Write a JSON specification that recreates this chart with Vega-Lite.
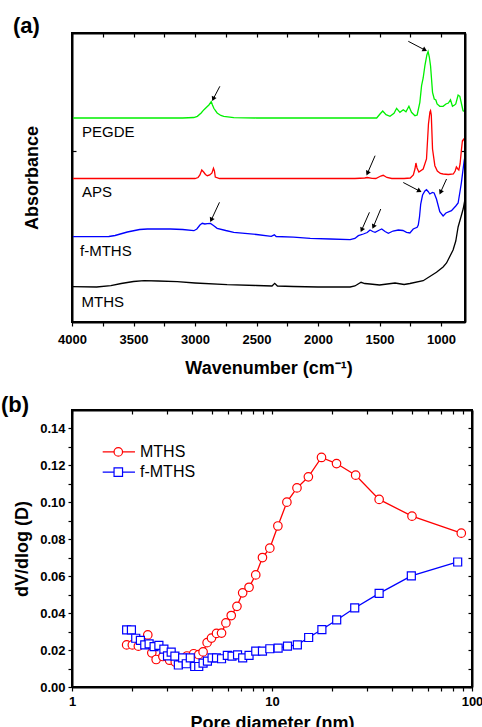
{
  "$schema": "https://vega.github.io/schema/vega-lite/v6.json",
  "background": "white",
  "padding": {"left": 0, "top": 14, "right": 0, "bottom": 0},
  "spacing": 15,
  "resolve": {"scale": {"stroke": "independent", "shape": "independent"}},
  "config": {
    "font": "Liberation Sans",
    "view": {"stroke": "black", "strokeWidth": 2},
    "axis": {"grid": false, "domain": true, "domainColor": "black", "domainWidth": 2, "zindex": 1, "tickColor": "black", "tickWidth": 1.2, "labelColor": "black", "titleColor": "black", "labelFont": "Liberation Sans", "labelFontWeight": "bold", "labelFontSize": 13, "titleFont": "Liberation Sans", "titleFontWeight": "bold", "titleFontSize": 18},
    "title": {"font": "Liberation Sans", "fontWeight": "bold", "fontSize": 22, "anchor": "start", "color": "black", "frame": "group"}
  },
  "datasets": {
    "ftir": [
      {"s":"PEGDE","w":4000,"a":204},{"s":"PEGDE","w":3700,"a":204},{"s":"PEGDE","w":3400,"a":204},{"s":"PEGDE","w":3100,"a":204},{"s":"PEGDE","w":3010,"a":204.5},{"s":"PEGDE","w":2981,"a":205.7},{"s":"PEGDE","w":2950,"a":209},{"s":"PEGDE","w":2927,"a":212.3},{"s":"PEGDE","w":2900,"a":215.5},{"s":"PEGDE","w":2887,"a":217},{"s":"PEGDE","w":2868,"a":220.3},{"s":"PEGDE","w":2858,"a":217},{"s":"PEGDE","w":2847,"a":213.7},{"s":"PEGDE","w":2820,"a":209},{"s":"PEGDE","w":2790,"a":206.5},{"s":"PEGDE","w":2766,"a":205.7},{"s":"PEGDE","w":2685,"a":204.3},{"s":"PEGDE","w":2500,"a":204},{"s":"PEGDE","w":2300,"a":204},{"s":"PEGDE","w":2100,"a":204},{"s":"PEGDE","w":1900,"a":204},{"s":"PEGDE","w":1700,"a":204},{"s":"PEGDE","w":1523,"a":204},{"s":"PEGDE","w":1496,"a":208},{"s":"PEGDE","w":1474,"a":211},{"s":"PEGDE","w":1447,"a":207.3},{"s":"PEGDE","w":1415,"a":205.7},{"s":"PEGDE","w":1382,"a":208.7},{"s":"PEGDE","w":1361,"a":213.7},{"s":"PEGDE","w":1334,"a":209.7},{"s":"PEGDE","w":1307,"a":212.3},{"s":"PEGDE","w":1285,"a":210.3},{"s":"PEGDE","w":1261,"a":215.7},{"s":"PEGDE","w":1240,"a":209.7},{"s":"PEGDE","w":1212,"a":206.3},{"s":"PEGDE","w":1194,"a":207},{"s":"PEGDE","w":1172,"a":219.7},{"s":"PEGDE","w":1158,"a":236.3},{"s":"PEGDE","w":1145,"a":244},{"s":"PEGDE","w":1131,"a":256.3},{"s":"PEGDE","w":1115,"a":267},{"s":"PEGDE","w":1105,"a":270.5},{"s":"PEGDE","w":1095,"a":265},{"s":"PEGDE","w":1085,"a":256},{"s":"PEGDE","w":1069,"a":229.7},{"s":"PEGDE","w":1055,"a":223},{"s":"PEGDE","w":1042,"a":222},{"s":"PEGDE","w":1032,"a":218},{"s":"PEGDE","w":1010,"a":215.7},{"s":"PEGDE","w":983,"a":215.7},{"s":"PEGDE","w":960,"a":218},{"s":"PEGDE","w":940,"a":219},{"s":"PEGDE","w":923,"a":222.3},{"s":"PEGDE","w":907,"a":215.7},{"s":"PEGDE","w":890,"a":217},{"s":"PEGDE","w":880,"a":218},{"s":"PEGDE","w":861,"a":227},{"s":"PEGDE","w":847,"a":225.7},{"s":"PEGDE","w":835,"a":219},{"s":"PEGDE","w":821,"a":211.3},{"s":"PEGDE","w":805,"a":210.3},
      {"s":"APS","w":4000,"a":143.5},{"s":"APS","w":3500,"a":143.5},{"s":"APS","w":3000,"a":143.5},{"s":"APS","w":2975,"a":144.5},{"s":"APS","w":2960,"a":147},{"s":"APS","w":2945,"a":152},{"s":"APS","w":2930,"a":150},{"s":"APS","w":2915,"a":147.5},{"s":"APS","w":2900,"a":146.3},{"s":"APS","w":2880,"a":147},{"s":"APS","w":2862,"a":149},{"s":"APS","w":2850,"a":153.7},{"s":"APS","w":2842,"a":151},{"s":"APS","w":2835,"a":145},{"s":"APS","w":2800,"a":143.5},{"s":"APS","w":2500,"a":143.5},{"s":"APS","w":2000,"a":143.5},{"s":"APS","w":1700,"a":143.5},{"s":"APS","w":1620,"a":144},{"s":"APS","w":1600,"a":144.5},{"s":"APS","w":1560,"a":143.7},{"s":"APS","w":1530,"a":143.5},{"s":"APS","w":1490,"a":146},{"s":"APS","w":1470,"a":146.7},{"s":"APS","w":1440,"a":144.5},{"s":"APS","w":1400,"a":143.5},{"s":"APS","w":1300,"a":143.5},{"s":"APS","w":1250,"a":144},{"s":"APS","w":1225,"a":147},{"s":"APS","w":1212,"a":153},{"s":"APS","w":1204,"a":159},{"s":"APS","w":1195,"a":154},{"s":"APS","w":1180,"a":150},{"s":"APS","w":1145,"a":153},{"s":"APS","w":1118,"a":163},{"s":"APS","w":1102,"a":198},{"s":"APS","w":1090,"a":210},{"s":"APS","w":1085,"a":211.3},{"s":"APS","w":1079,"a":207},{"s":"APS","w":1069,"a":173},{"s":"APS","w":1050,"a":156.3},{"s":"APS","w":1030,"a":151},{"s":"APS","w":1005,"a":148.5},{"s":"APS","w":983,"a":148},{"s":"APS","w":940,"a":147.5},{"s":"APS","w":900,"a":148},{"s":"APS","w":885,"a":151},{"s":"APS","w":875,"a":155},{"s":"APS","w":863,"a":153},{"s":"APS","w":855,"a":152},{"s":"APS","w":845,"a":158},{"s":"APS","w":835,"a":171},{"s":"APS","w":826,"a":181.3},{"s":"APS","w":815,"a":183},{"s":"APS","w":805,"a":179},
      {"s":"f-MTHS","w":4000,"a":85.3},{"s":"f-MTHS","w":3800,"a":85.3},{"s":"f-MTHS","w":3700,"a":85.5},{"s":"f-MTHS","w":3650,"a":86.5},{"s":"f-MTHS","w":3550,"a":90},{"s":"f-MTHS","w":3450,"a":92.5},{"s":"f-MTHS","w":3387,"a":93},{"s":"f-MTHS","w":3300,"a":93.2},{"s":"f-MTHS","w":3200,"a":93},{"s":"f-MTHS","w":3100,"a":92.5},{"s":"f-MTHS","w":3009,"a":91.3},{"s":"f-MTHS","w":2985,"a":93},{"s":"f-MTHS","w":2960,"a":97},{"s":"f-MTHS","w":2941,"a":98.7},{"s":"f-MTHS","w":2920,"a":98},{"s":"f-MTHS","w":2900,"a":98.3},{"s":"f-MTHS","w":2874,"a":98.5},{"s":"f-MTHS","w":2850,"a":96.5},{"s":"f-MTHS","w":2820,"a":93.7},{"s":"f-MTHS","w":2750,"a":91.5},{"s":"f-MTHS","w":2685,"a":89.7},{"s":"f-MTHS","w":2500,"a":87.5},{"s":"f-MTHS","w":2380,"a":85.7},{"s":"f-MTHS","w":2355,"a":87.2},{"s":"f-MTHS","w":2340,"a":85.5},{"s":"f-MTHS","w":2200,"a":84.8},{"s":"f-MTHS","w":2063,"a":83.7},{"s":"f-MTHS","w":1900,"a":83},{"s":"f-MTHS","w":1739,"a":82.3},{"s":"f-MTHS","w":1700,"a":83.5},{"s":"f-MTHS","w":1672,"a":86.3},{"s":"f-MTHS","w":1631,"a":88},{"s":"f-MTHS","w":1600,"a":89.5},{"s":"f-MTHS","w":1577,"a":92},{"s":"f-MTHS","w":1555,"a":90.5},{"s":"f-MTHS","w":1536,"a":89.7},{"s":"f-MTHS","w":1500,"a":92},{"s":"f-MTHS","w":1482,"a":93},{"s":"f-MTHS","w":1455,"a":90.5},{"s":"f-MTHS","w":1428,"a":88.7},{"s":"f-MTHS","w":1390,"a":91},{"s":"f-MTHS","w":1347,"a":92},{"s":"f-MTHS","w":1310,"a":91.5},{"s":"f-MTHS","w":1280,"a":89.7},{"s":"f-MTHS","w":1253,"a":89},{"s":"f-MTHS","w":1226,"a":93},{"s":"f-MTHS","w":1194,"a":94.7},{"s":"f-MTHS","w":1185,"a":97},{"s":"f-MTHS","w":1175,"a":105},{"s":"f-MTHS","w":1165,"a":118},{"s":"f-MTHS","w":1150,"a":127},{"s":"f-MTHS","w":1131,"a":131},{"s":"f-MTHS","w":1118,"a":132.3},{"s":"f-MTHS","w":1105,"a":130.5},{"s":"f-MTHS","w":1091,"a":128},{"s":"f-MTHS","w":1070,"a":129.5},{"s":"f-MTHS","w":1056,"a":129},{"s":"f-MTHS","w":1037,"a":123},{"s":"f-MTHS","w":1010,"a":110.3},{"s":"f-MTHS","w":983,"a":106},{"s":"f-MTHS","w":960,"a":109},{"s":"f-MTHS","w":915,"a":111.3},{"s":"f-MTHS","w":880,"a":116},{"s":"f-MTHS","w":861,"a":119},{"s":"f-MTHS","w":845,"a":131},{"s":"f-MTHS","w":834,"a":139.7},{"s":"f-MTHS","w":812,"a":161},{"s":"f-MTHS","w":805,"a":166},
      {"s":"MTHS","w":4000,"a":35.3},{"s":"MTHS","w":3800,"a":35},{"s":"MTHS","w":3684,"a":36.3},{"s":"MTHS","w":3600,"a":38.5},{"s":"MTHS","w":3500,"a":40.5},{"s":"MTHS","w":3414,"a":41.3},{"s":"MTHS","w":3300,"a":41},{"s":"MTHS","w":3144,"a":40.3},{"s":"MTHS","w":3000,"a":39},{"s":"MTHS","w":2739,"a":37.3},{"s":"MTHS","w":2500,"a":36.5},{"s":"MTHS","w":2374,"a":36},{"s":"MTHS","w":2352,"a":38.7},{"s":"MTHS","w":2330,"a":36},{"s":"MTHS","w":2200,"a":35.5},{"s":"MTHS","w":2000,"a":35},{"s":"MTHS","w":1739,"a":35},{"s":"MTHS","w":1700,"a":36},{"s":"MTHS","w":1650,"a":39.7},{"s":"MTHS","w":1620,"a":38.5},{"s":"MTHS","w":1577,"a":38},{"s":"MTHS","w":1500,"a":37},{"s":"MTHS","w":1374,"a":39},{"s":"MTHS","w":1300,"a":37.5},{"s":"MTHS","w":1253,"a":38.5},{"s":"MTHS","w":1145,"a":41.3},{"s":"MTHS","w":1037,"a":49.7},{"s":"MTHS","w":983,"a":55},{"s":"MTHS","w":955,"a":59},{"s":"MTHS","w":902,"a":72},{"s":"MTHS","w":880,"a":81},{"s":"MTHS","w":861,"a":95},{"s":"MTHS","w":838,"a":105},{"s":"MTHS","w":820,"a":113},{"s":"MTHS","w":805,"a":123}
    ],
    "ftirLabels": [
      {"t":"PEGDE","w":3919,"a":190.3},
      {"t":"APS","w":3919,"a":130.3},
      {"t":"f-MTHS","w":3935,"a":71.3},
      {"t":"MTHS","w":3922,"a":20.3}
    ],
    "arrows": [
      {"dir":"L","w1":2798,"a1":235.7,"w2":2852,"a2":223},
      {"dir":"R","w1":1266,"a1":280.7,"w2":1131,"a2":272},
      {"dir":"L","w1":1536,"a1":166.3,"w2":1598,"a2":148.7},
      {"dir":"L","w1":2801,"a1":119.7,"w2":2868,"a2":102},
      {"dir":"L","w1":1582,"a1":109.7,"w2":1645,"a2":92},
      {"dir":"L","w1":1490,"a1":113,"w2":1550,"a2":95.3},
      {"dir":"R","w1":1307,"a1":139.5,"w2":1175,"a2":131},
      {"dir":"L","w1":955,"a1":143,"w2":1004,"a2":129.7}
    ],
    "psd": [
      {"s":"MTHS","d":1.876,"v":0.0228},{"s":"MTHS","d":2.003,"v":0.0228},{"s":"MTHS","d":2.147,"v":0.0221},{"s":"MTHS","d":2.393,"v":0.0282},{"s":"MTHS","d":2.506,"v":0.0185},{"s":"MTHS","d":2.635,"v":0.0149},{"s":"MTHS","d":2.847,"v":0.0165},{"s":"MTHS","d":3.075,"v":0.0145},{"s":"MTHS","d":3.283,"v":0.0135},{"s":"MTHS","d":3.52,"v":0.015},{"s":"MTHS","d":3.758,"v":0.0168},{"s":"MTHS","d":4.059,"v":0.018},{"s":"MTHS","d":4.302,"v":0.0175},{"s":"MTHS","d":4.523,"v":0.019},{"s":"MTHS","d":4.738,"v":0.024},{"s":"MTHS","d":4.982,"v":0.0265},{"s":"MTHS","d":5.279,"v":0.029},{"s":"MTHS","d":5.594,"v":0.0292},{"s":"MTHS","d":5.882,"v":0.0347},{"s":"MTHS","d":6.255,"v":0.0387},{"s":"MTHS","d":6.68,"v":0.0437},{"s":"MTHS","d":7.134,"v":0.051},{"s":"MTHS","d":7.677,"v":0.054},{"s":"MTHS","d":8.294,"v":0.0607},{"s":"MTHS","d":8.96,"v":0.0701},{"s":"MTHS","d":9.752,"v":0.0752},{"s":"MTHS","d":10.7,"v":0.0872},{"s":"MTHS","d":11.87,"v":0.1001},{"s":"MTHS","d":13.33,"v":0.1078},{"s":"MTHS","d":15.2,"v":0.1138},{"s":"MTHS","d":17.68,"v":0.1243},{"s":"MTHS","d":21.02,"v":0.121},{"s":"MTHS","d":26.2,"v":0.1147},{"s":"MTHS","d":34.33,"v":0.1016},{"s":"MTHS","d":50.11,"v":0.0925},{"s":"MTHS","d":88.4,"v":0.0833},
      {"s":"f-MTHS","d":1.876,"v":0.0309},{"s":"f-MTHS","d":1.982,"v":0.0309},{"s":"f-MTHS","d":2.083,"v":0.0264},{"s":"f-MTHS","d":2.198,"v":0.0253},{"s":"f-MTHS","d":2.311,"v":0.0228},{"s":"f-MTHS","d":2.43,"v":0.0234},{"s":"f-MTHS","d":2.573,"v":0.0219},{"s":"f-MTHS","d":2.719,"v":0.0225},{"s":"f-MTHS","d":2.88,"v":0.0205},{"s":"f-MTHS","d":3.003,"v":0.0169},{"s":"f-MTHS","d":3.133,"v":0.0189},{"s":"f-MTHS","d":3.27,"v":0.0167},{"s":"f-MTHS","d":3.403,"v":0.0119},{"s":"f-MTHS","d":3.574,"v":0.0158},{"s":"f-MTHS","d":3.727,"v":0.0126},{"s":"f-MTHS","d":3.903,"v":0.0158},{"s":"f-MTHS","d":4.106,"v":0.0111},{"s":"f-MTHS","d":4.302,"v":0.0111},{"s":"f-MTHS","d":4.523,"v":0.0129},{"s":"f-MTHS","d":4.755,"v":0.014},{"s":"f-MTHS","d":5.016,"v":0.0158},{"s":"f-MTHS","d":5.279,"v":0.0158},{"s":"f-MTHS","d":5.594,"v":0.0153},{"s":"f-MTHS","d":5.98,"v":0.0171},{"s":"f-MTHS","d":6.311,"v":0.0167},{"s":"f-MTHS","d":6.726,"v":0.0174},{"s":"f-MTHS","d":7.134,"v":0.0158},{"s":"f-MTHS","d":7.677,"v":0.0171},{"s":"f-MTHS","d":8.294,"v":0.0194},{"s":"f-MTHS","d":8.96,"v":0.0194},{"s":"f-MTHS","d":9.752,"v":0.0207},{"s":"f-MTHS","d":10.73,"v":0.021},{"s":"f-MTHS","d":11.95,"v":0.0221},{"s":"f-MTHS","d":13.39,"v":0.0228},{"s":"f-MTHS","d":15.25,"v":0.0268},{"s":"f-MTHS","d":17.76,"v":0.0311},{"s":"f-MTHS","d":21.06,"v":0.0363},{"s":"f-MTHS","d":25.92,"v":0.0428},{"s":"f-MTHS","d":34.33,"v":0.0507},{"s":"f-MTHS","d":49.73,"v":0.0602},{"s":"f-MTHS","d":84.8,"v":0.0677}
    ],
    "psdLegend": [
      {"s":"MTHS","x1":1.424,"x2":2.065,"xm":1.704,"xt":2.188,"v":0.1273},
      {"s":"f-MTHS","x1":1.424,"x2":2.065,"xm":1.704,"xt":2.188,"v":0.1164}
    ]
  },
  "vconcat": [
    {
      "width": 393,
      "height": 289,
      "title": {"text": "(a)", "dx": -59, "offset": -6},
      "resolve": {"axis": {"x": "independent", "y": "independent"}},
      "layer": [
        {
          "data": {"name": "ftir"},
          "mark": {"type": "line", "strokeWidth": 1.3},
          "encoding": {
            "x": {"field": "w", "type": "quantitative", "scale": {"domain": [805, 4000], "reverse": true, "nice": false, "zero": false},
                  "axis": {"orient": "bottom", "title": "Wavenumber (cm⁻¹)", "values": [4000,3750,3500,3250,3000,2750,2500,2250,2000,1750,1500,1250,1000], "format": "d", "labelExpr": "datum.value % 500 == 0 ? datum.label : ''", "labelOverlap": false, "labelFlush": false, "tickSize": 4, "labelPadding": 7, "titlePadding": 13}},
            "y": {"field": "a", "type": "quantitative", "scale": {"domain": [0, 289], "nice": false, "zero": false},
                  "axis": {"orient": "left", "title": "Absorbance", "values": [171], "labels": false, "tickSize": -4, "titlePadding": 30}},
            "stroke": {"field": "s", "type": "nominal", "scale": {"domain": ["PEGDE", "APS", "f-MTHS", "MTHS"], "range": ["#00F000", "#FF0000", "#0000FF", "#000000"]}, "legend": null}
          }
        },
        {
          "data": {"name": "ftir"},
          "mark": {"type": "point", "opacity": 0},
          "encoding": {
            "x": {"field": "w", "type": "quantitative", "scale": {"domain": [805, 4000], "reverse": true, "nice": false, "zero": false},
                  "axis": {"orient": "top", "title": null, "values": [4000,3750,3500,3250,3000,2750,2500,2250,2000,1750,1500,1250,1000], "labels": false, "tickSize": -4}},
            "y": {"field": "a", "type": "quantitative", "scale": {"domain": [0, 289], "nice": false, "zero": false},
                  "axis": {"orient": "right", "title": null, "values": [171], "labels": false, "tickSize": -4}}
          }
        },
        {
          "data": {"values": [{}]},
          "mark": {"type": "rect", "filled": false, "stroke": "black", "strokeWidth": 2},
          "encoding": {
            "x": {"datum": 4000, "type": "quantitative", "axis": null},
            "x2": {"datum": 805},
            "y": {"datum": 0, "type": "quantitative", "axis": null},
            "y2": {"datum": 289}
          }
        },
        {
          "data": {"name": "ftirLabels"},
          "mark": {"type": "text", "align": "left", "baseline": "middle", "fontSize": 15, "font": "Liberation Sans", "color": "black"},
          "encoding": {
            "x": {"field": "w", "type": "quantitative", "axis": null},
            "y": {"field": "a", "type": "quantitative", "axis": null},
            "text": {"field": "t"}
          }
        },
        {
          "data": {"name": "arrows"},
          "mark": {"type": "rule", "color": "black", "strokeWidth": 1},
          "encoding": {
            "x": {"field": "w1", "type": "quantitative", "axis": null},
            "y": {"field": "a1", "type": "quantitative", "axis": null},
            "x2": {"field": "w2"},
            "y2": {"field": "a2"}
          }
        },
        {
          "data": {"name": "arrows"},
          "transform": [{"filter": "datum.dir == 'L'"}],
          "mark": {"type": "point", "shape": "triangle-up", "size": 28, "filled": true, "color": "black", "opacity": 1, "angle": 205},
          "encoding": {
            "x": {"field": "w2", "type": "quantitative", "axis": null},
            "y": {"field": "a2", "type": "quantitative", "axis": null}
          }
        },
        {
          "data": {"name": "arrows"},
          "transform": [{"filter": "datum.dir == 'R'"}],
          "mark": {"type": "point", "shape": "triangle-up", "size": 28, "filled": true, "color": "black", "opacity": 1, "angle": 118},
          "encoding": {
            "x": {"field": "w2", "type": "quantitative", "axis": null},
            "y": {"field": "a2", "type": "quantitative", "axis": null}
          }
        }
      ]
    },
    {
      "width": 400,
      "height": 277,
      "title": {"text": "(b)", "dx": -71, "offset": -8},
      "resolve": {"axis": {"x": "independent", "y": "independent"}},
      "layer": [
        {
          "data": {"name": "psd"},
          "transform": [{"filter": "datum.s == 'MTHS'"}],
          "mark": {"type": "line", "strokeWidth": 1.3},
          "encoding": {
            "x": {"field": "d", "type": "quantitative", "scale": {"type": "log", "domain": [1, 100], "nice": false},
                  "axis": {"orient": "bottom", "title": "Pore diameter (nm)", "values": [1,2,3,4,5,6,7,8,9,10,20,30,40,50,60,70,80,90,100], "format": "~g", "labelExpr": "datum.value == 1 || datum.value == 10 || datum.value == 100 ? datum.label : ''", "labelOverlap": false, "labelFlush": false, "tickSize": 4, "labelPadding": 4, "titlePadding": 6}},
            "y": {"field": "v", "type": "quantitative", "scale": {"domain": [0, 0.15], "nice": false, "zero": false},
                  "axis": {"orient": "left", "title": "dV/dlog (D)", "values": [0,0.01,0.02,0.03,0.04,0.05,0.06,0.07,0.08,0.09,0.1,0.11,0.12,0.13,0.14], "labelExpr": "round(datum.value*100) % 2 == 0 ? format(datum.value, '.2f') : ''", "labelOverlap": false, "labelFlush": false, "tickSize": 4, "labelPadding": 3, "titlePadding": 8}},
            "stroke": {"field": "s", "type": "nominal", "scale": {"domain": ["MTHS", "f-MTHS"], "range": ["#FF0000", "#0000FF"]}, "legend": null}
          }
        },
        {
          "data": {"name": "psd"},
          "transform": [{"filter": "datum.s == 'MTHS'"}],
          "mark": {"type": "point", "shape": "circle", "size": 72, "filled": true, "fill": "white", "opacity": 1, "strokeWidth": 1.2},
          "encoding": {
            "x": {"field": "d", "type": "quantitative", "axis": null},
            "y": {"field": "v", "type": "quantitative", "axis": null},
            "stroke": {"field": "s", "type": "nominal", "legend": null}
          }
        },
        {
          "data": {"name": "psd"},
          "transform": [{"filter": "datum.s == 'f-MTHS'"}],
          "mark": {"type": "line", "strokeWidth": 1.3},
          "encoding": {
            "x": {"field": "d", "type": "quantitative", "axis": null},
            "y": {"field": "v", "type": "quantitative", "axis": null},
            "stroke": {"field": "s", "type": "nominal", "legend": null}
          }
        },
        {
          "data": {"name": "psd"},
          "transform": [{"filter": "datum.s == 'f-MTHS'"}],
          "mark": {"type": "point", "shape": "square", "size": 64, "filled": true, "fill": "white", "opacity": 1, "strokeWidth": 1.2},
          "encoding": {
            "x": {"field": "d", "type": "quantitative", "axis": null},
            "y": {"field": "v", "type": "quantitative", "axis": null},
            "stroke": {"field": "s", "type": "nominal", "legend": null}
          }
        },
        {
          "data": {"name": "psd"},
          "mark": {"type": "point", "opacity": 0},
          "encoding": {
            "x": {"field": "d", "type": "quantitative",
                  "axis": {"orient": "top", "title": null, "values": [1,2,3,4,5,6,7,8,9,10,20,30,40,50,60,70,80,90,100], "labels": false, "tickSize": -4}},
            "y": {"field": "v", "type": "quantitative",
                  "axis": {"orient": "right", "title": null, "values": [0,0.01,0.02,0.03,0.04,0.05,0.06,0.07,0.08,0.09,0.1,0.11,0.12,0.13,0.14], "labels": false, "tickSize": -4}}
          }
        },
        {
          "data": {"values": [{}]},
          "mark": {"type": "rect", "filled": false, "stroke": "black", "strokeWidth": 2},
          "encoding": {
            "x": {"datum": 1, "type": "quantitative", "axis": null},
            "x2": {"datum": 100},
            "y": {"datum": 0, "type": "quantitative", "axis": null},
            "y2": {"datum": 0.15}
          }
        },
        {
          "data": {"name": "psdLegend"},
          "mark": {"type": "rule", "strokeWidth": 1.3},
          "encoding": {
            "x": {"field": "x1", "type": "quantitative", "axis": null},
            "x2": {"field": "x2"},
            "y": {"field": "v", "type": "quantitative", "axis": null},
            "stroke": {"field": "s", "type": "nominal", "legend": null}
          }
        },
        {
          "data": {"name": "psdLegend"},
          "mark": {"type": "point", "size": 72, "filled": true, "fill": "white", "opacity": 1, "strokeWidth": 1.2},
          "encoding": {
            "x": {"field": "xm", "type": "quantitative", "axis": null},
            "y": {"field": "v", "type": "quantitative", "axis": null},
            "shape": {"field": "s", "type": "nominal", "scale": {"domain": ["MTHS", "f-MTHS"], "range": ["circle", "square"]}, "legend": null},
            "stroke": {"field": "s", "type": "nominal", "legend": null}
          }
        },
        {
          "data": {"name": "psdLegend"},
          "mark": {"type": "text", "align": "left", "baseline": "middle", "fontSize": 16, "font": "Liberation Sans", "color": "black"},
          "encoding": {
            "x": {"field": "xt", "type": "quantitative", "axis": null},
            "y": {"field": "v", "type": "quantitative", "axis": null},
            "text": {"field": "s"}
          }
        }
      ]
    }
  ]
}
